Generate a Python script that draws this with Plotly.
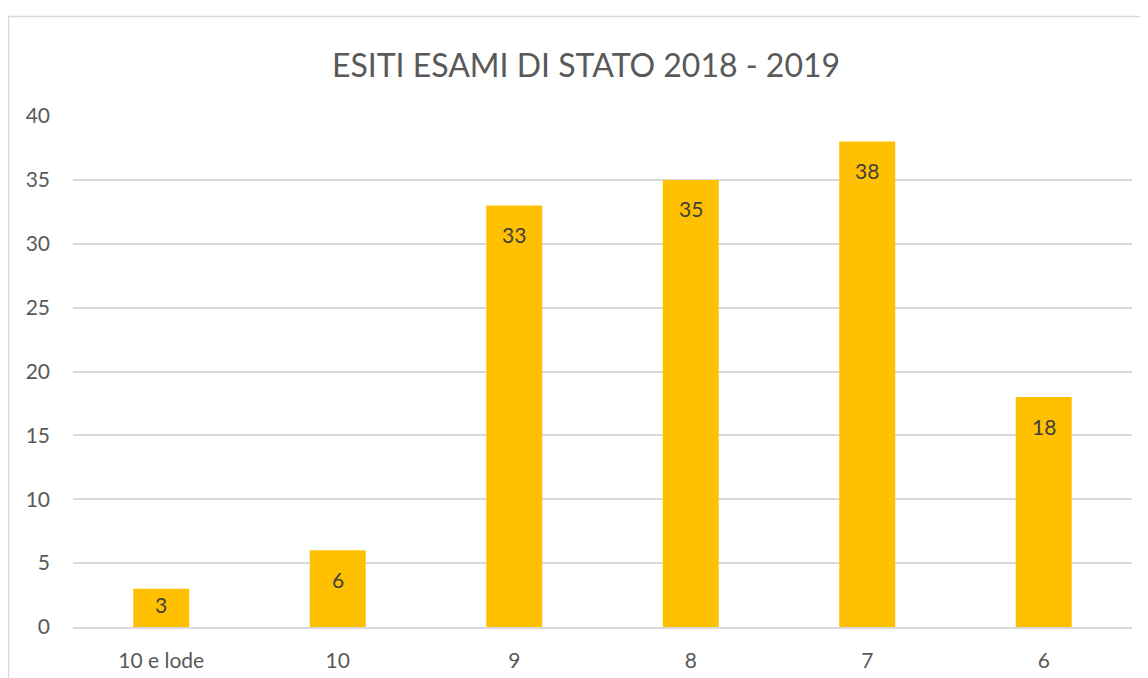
import plotly.graph_objects as go

categories = ["10 e lode", "10", "9", "8", "7", "6"]
values = [3, 6, 33, 35, 38, 18]
y_ticks = [0, 5, 10, 15, 20, 25, 30, 35, 40]

FONT = "Lato, Calibri, 'Open Sans', sans-serif"

# page body has an 8px margin; plot area in page coords: x 73-1132, y 116-627
L, R, T, B = 65, 1148 - 1124, 108, 678 - 619
PW, PH = 1124 - 65, 619 - 108
Y_MAX = 40
PX_PER_UNIT = PH / Y_MAX

fig = go.Figure()
fig.add_trace(go.Bar(
    x=categories, y=values,
    marker=dict(color="#FFC000", line=dict(width=0)),
    hovertemplate="%{x}: %{y}<extra></extra>",
))

# data labels placed inside each bar, near its top (category index = position)
annotations = [
    dict(x=i, y=v, xref="x", yref="y", text=str(v), showarrow=False,
         yanchor="middle", yshift=-min(29, v * PX_PER_UNIT * 0.4),
         font=dict(family=FONT, size=21, color="#404040"))
    for i, v in enumerate(values)
]

fig.update_layout(
    width=1148, height=678,
    margin=dict(l=L, r=R, t=T, b=B),
    paper_bgcolor="white", plot_bgcolor="white",
    bargap=0.683,
    showlegend=False,
    annotations=annotations,
    title=dict(text="ESITI ESAMI DI STATO 2018 - 2019", x=(586 - 8 - L) / PW, xref="paper",
               xanchor="center", y=1 - 58 / 678, yanchor="middle",
               font=dict(family=FONT, size=32, color="#595959")),
    font=dict(family=FONT, size=21, color="#595959"),
    xaxis=dict(type="category", showgrid=False, showline=True, linecolor="#d9d9d9",
               linewidth=1.5, ticks="", tickfont=dict(size=21, color="#595959"),
               ticklabelstandoff=14),
    yaxis=dict(range=[0, Y_MAX], tickvals=y_ticks, showgrid=True, gridcolor="#d9d9d9",
               gridwidth=1.5, zeroline=False, showline=False, ticks="",
               tickfont=dict(size=21, color="#595959"), ticklabelstandoff=22),
    shapes=[dict(type="rect", xref="paper", yref="paper",
                 x0=(0.5 - L) / PW, x1=1.2, y0=-0.3, y1=(619 - 8.5) / PH,
                 line=dict(color="#d9d9d9", width=1.5), fillcolor="rgba(0,0,0,0)",
                 layer="below")],
)

fig.write_html("out.html")
